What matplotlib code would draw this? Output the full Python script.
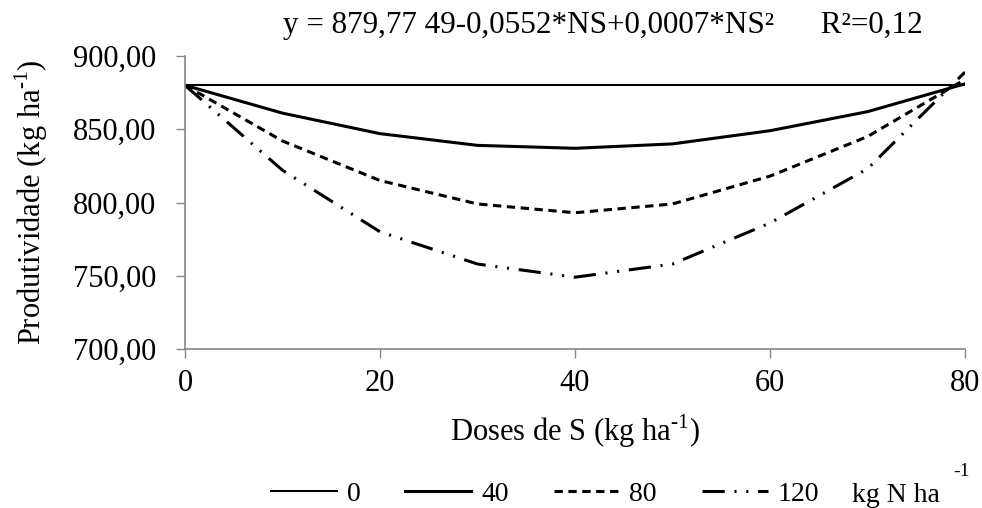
import matplotlib.pyplot as plt

plt.rcParams['font.family'] = ['Liberation Serif', 'DejaVu Serif']
plt.rcParams['mathtext.fontset'] = 'custom'
plt.rcParams['mathtext.rm'] = 'Liberation Serif'
plt.rcParams['lines.scale_dashes'] = False

# Doses de S (kg ha-1)
doses_s = [0, 10, 20, 30, 40, 50, 60, 70, 80]

# Produtividade para cada dose de N
n0 = [880, 880, 880, 880, 880, 880, 880, 880, 880]
n40 = [880, 861, 847, 839, 837, 840, 849, 862, 881]
n80 = [880, 842, 815, 799, 793, 799, 818, 845, 884]
n120 = [880, 822, 780, 758, 749, 758, 786, 823, 889]

labels = ['0', '40', '80', '120']
yticks = [700, 750, 800, 850, 900]
xticks = [0, 20, 40, 60, 80]

fs = 22
fig = plt.figure(figsize=(9.82, 5.08), dpi=100)
ax = fig.add_axes([185 / 982, 1 - 349 / 508, 780 / 982, 293 / 508])

l0, = ax.plot(doses_s, n0, color='black', lw=1.5, label=labels[0])
l40, = ax.plot(doses_s, n40, color='black', lw=2.2, label=labels[1])
l80, = ax.plot(doses_s, n80, color='black', lw=2.2, dashes=(6, 4), label=labels[2])
l120, = ax.plot(doses_s, n120, color='black', lw=2.2,
                dashes=(16, 7, 1.5, 7, 1.5, 7), label=labels[3])

ax.set_xlim(0, 80)
ax.set_ylim(700, 900)
ax.set_xticks(xticks)
ax.set_yticks(yticks)
ax.set_yticklabels([f'{v:.2f}'.replace('.', ',') for v in yticks], fontsize=fs)
ax.set_xticklabels([str(v) for v in xticks], fontsize=fs)
ax.tick_params(axis='both', color='#888888', length=6.5, width=1)
ax.tick_params(axis='y', pad=14)
ax.tick_params(axis='x', pad=8)
for s in ['top', 'right']:
    ax.spines[s].set_visible(False)
for s in ['left', 'bottom']:
    ax.spines[s].set_color('#888888')
    ax.spines[s].set_linewidth(1.2)

ax.set_xlabel(r'Doses de S (kg ha$^{\text{-}1}$)', fontsize=fs, labelpad=10)
ax.set_ylabel(r'Produtividade (kg ha$^{\text{-}1}$)', fontsize=fs, labelpad=17)

fig.text(603 / 982, 1 - 26 / 508,
         'y = 879,77 49-0,0552*NS+0,0007*NS²      R²=0,12',
         fontsize=fs + 0.4, ha='center', va='center')

fig.legend(handles=[l0, l40, l80, l120], loc='center',
           bbox_to_anchor=(545 / 982, 1 - 494 / 508), ncol=4, frameon=False,
           fontsize=20, handlelength=2.37, handletextpad=0.36,
           columnspacing=1.62, borderpad=0)
fig.text(852 / 982, 1 - 495 / 508, 'kg N ha', fontsize=20,
         ha='left', va='center')
fig.text(953 / 982, 1 - 472 / 508, '-1', fontsize=14,
         ha='left', va='center')

fig.savefig('out.png', dpi=100)
